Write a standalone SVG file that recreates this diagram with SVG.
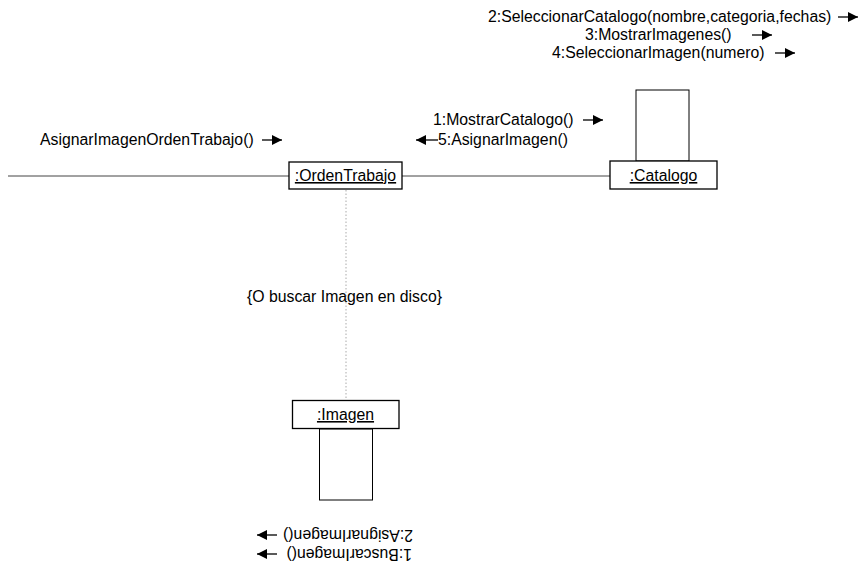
<svg xmlns="http://www.w3.org/2000/svg" width="861" height="566" viewBox="0 0 861 566">
  <defs>
    <marker id="head" viewBox="0 0 10 10" refX="10" refY="5" markerWidth="10" markerHeight="10" markerUnits="userSpaceOnUse" orient="auto">
      <path d="M0,0 L10,5 L0,10 Z" fill="#000"/>
    </marker>
  </defs>
  <style>
    text { font-family: "Liberation Sans", Arial, sans-serif; font-size: 15.8px; fill: #000; }
    .obj { fill: #fff; stroke: #000; stroke-width: 1.3; }
    .act { fill: #fff; stroke: #000; stroke-width: 1; }
    .link { stroke: #444; stroke-width: 1; fill: none; }
    .dep { stroke: #aaa; stroke-width: 1; stroke-dasharray: 1.5 2; fill: none; }
    .msg { stroke: #000; stroke-width: 1.3; fill: none; marker-end: url(#head); }
    .name { text-decoration: underline; }
  </style>
  <rect width="861" height="566" fill="#fff"/>

  <!-- links between objects -->
  <g id="connectors">
    <line class="link" x1="8" y1="176" x2="289" y2="176"/>
    <line class="link" x1="402" y1="176" x2="610" y2="176"/>
    <line class="dep" x1="346" y1="190" x2="346" y2="400"/>
  </g>

  <!-- message labels -->
  <g id="messages">
    <text x="40" y="145">AsignarImagenOrdenTrabajo()</text>
    <line class="msg" x1="262" y1="140" x2="282" y2="140"/>

    <text x="433" y="125">1:MostrarCatalogo()</text>
    <line class="msg" x1="583" y1="120" x2="603" y2="120"/>
    <line class="msg" x1="438" y1="140" x2="416" y2="140"/>
    <text x="438" y="145">5:AsignarImagen()</text>

    <text x="488" y="22">2:SeleccionarCatalogo(nombre,categoria,fechas)</text>
    <line class="msg" x1="838" y1="17" x2="858" y2="17"/>
    <text x="585" y="40">3:MostrarImagenes()</text>
    <line class="msg" x1="752" y1="35" x2="772" y2="35"/>
    <text x="552" y="58">4:SeleccionarImagen(numero)</text>
    <line class="msg" x1="775" y1="53" x2="795" y2="53"/>

    <text x="247" y="302">{O buscar Imagen en disco}</text>

    <!-- upside-down labels under :Imagen -->
    <g transform="rotate(180 335 544)">
      <text x="258" y="539">1:BuscarImagen()</text>
      <line class="msg" x1="393" y1="534" x2="413" y2="534"/>
      <text x="257" y="558">2:AsignarImagen()</text>
      <line class="msg" x1="393" y1="553" x2="413" y2="553"/>
    </g>
  </g>

  <g id="orden-trabajo">
    <rect class="obj" x="289" y="162" width="113" height="27"/>
    <text class="name" x="345.5" y="181" text-anchor="middle">:OrdenTrabajo</text>
  </g>

  <g id="catalogo">
    <rect class="act" x="636" y="90" width="53" height="71"/>
    <rect class="obj" x="610" y="161" width="107" height="28"/>
    <text class="name" x="663.5" y="181" text-anchor="middle">:Catalogo</text>
  </g>

  <g id="imagen">
    <rect class="act" x="319.5" y="429" width="53" height="71"/>
    <rect class="obj" x="292.5" y="400.5" width="106.5" height="28"/>
    <text class="name" x="345.5" y="420" text-anchor="middle">:Imagen</text>
  </g>
</svg>
